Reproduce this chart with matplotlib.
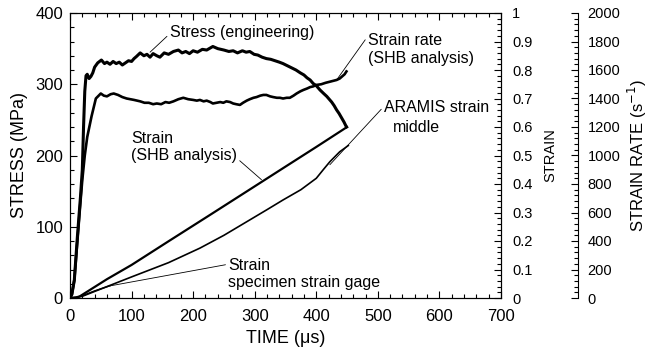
import matplotlib
matplotlib.use("Agg")
import matplotlib.pyplot as plt
from matplotlib.ticker import MultipleLocator

plt.rcParams['font.family'] = ['Liberation Sans', 'DejaVu Sans']

# stress (engineering), MPa
stress_t = [0, 3, 7, 12, 17, 20, 22, 24, 26, 28, 31, 34, 37, 40, 45, 51, 56, 60, 65, 70, 75, 80, 85,
            90, 95, 100, 104, 108, 114, 120, 125, 130, 135, 141, 146, 153, 160, 168, 176, 182, 188,
            194, 200, 207, 215, 222, 232, 240, 250, 258, 265, 272, 280, 286, 292, 299, 305, 312, 319,
            326, 333, 340, 346, 353, 360, 367, 374, 380, 385, 390, 395, 400, 406, 412, 417, 421, 425,
            429, 433, 437, 441, 445, 449]
stress = [0, 5, 25, 86, 142, 180, 240, 290, 312, 314, 308, 311, 316, 324, 330, 334, 329, 331, 328, 332,
          329, 331, 327, 330, 333, 332, 336, 339, 344, 340, 342, 338, 343, 340, 338, 344, 342, 346, 348,
          344, 346, 343, 347, 345, 349, 348, 353, 350, 348, 346, 347, 344, 347, 345, 346, 342, 341, 338,
          336, 335, 333, 331, 329, 326, 323, 320, 316, 313, 309, 306, 301, 298, 292, 287, 283, 279, 275,
          270, 264, 259, 253, 247, 240]

# strain rate (SHB analysis), 1/s
rate_t = [0, 3, 7, 12, 17, 20, 24, 28, 35, 42, 50, 55, 60, 66, 71, 78, 85, 92, 98, 104, 109, 114, 121,
          128, 135, 141, 148, 155, 161, 168, 176, 184, 192, 200, 206, 211, 217, 222, 228, 232, 238,
          244, 249, 254, 260, 265, 270, 276, 281, 287, 292, 298, 303, 309, 314, 319, 325, 330, 336,
          341, 346, 352, 357, 363, 368, 374, 379, 385, 390, 395, 400, 408, 415, 424, 433, 438, 442,
          446, 449]
rate = [0, 25, 125, 400, 675, 830, 1000, 1130, 1275, 1400, 1435, 1420, 1415, 1430, 1435, 1425, 1410,
        1400, 1395, 1390, 1385, 1380, 1370, 1370, 1360, 1365, 1360, 1375, 1370, 1380, 1395, 1405,
        1395, 1390, 1385, 1390, 1380, 1385, 1375, 1365, 1370, 1375, 1370, 1380, 1375, 1365, 1360,
        1355, 1370, 1385, 1395, 1405, 1410, 1420, 1425, 1425, 1415, 1410, 1405, 1405, 1400, 1405,
        1405, 1420, 1435, 1450, 1460, 1470, 1480, 1485, 1495, 1500, 1510, 1520, 1530, 1540, 1555,
        1570, 1590]

# strain (SHB analysis)
shb_t = [0, 10, 16, 60, 100, 160, 227, 290, 350, 400, 450]
shb_strain = [0, 0.002, 0.006, 0.066, 0.116, 0.199, 0.291, 0.378, 0.461, 0.53, 0.6]

# ARAMIS strain middle
aramis_t = [0, 10, 20, 60, 100, 160, 211, 250, 292, 320, 346, 375, 400, 412, 422, 438, 452]
aramis_strain = [0, 0.002, 0.006, 0.04, 0.074, 0.124, 0.175, 0.22, 0.274, 0.31, 0.344, 0.38, 0.42,
                 0.452, 0.478, 0.513, 0.535]

# strain, specimen strain gage
gage_t = [0, 10, 20, 40, 65]
gage_strain = [0, 0.002, 0.008, 0.025, 0.043]

strain_ticks = [0, 0.1, 0.2, 0.3, 0.4, 0.5, 0.6, 0.7, 0.8, 0.9, 1]
strain_labels = ['0', '0.1', '0.2', '0.3', '0.4', '0.5', '0.6', '0.7', '0.8', '0.9', '1']

fig = plt.figure(figsize=(6.51, 3.52), dpi=100)
ax = fig.add_axes([70 / 651, 1 - 298 / 352, 431 / 651, 285 / 352])
ax2 = ax.twinx()
ax3 = ax.twinx()

ax.plot(stress_t, stress, color='black', lw=2.2, solid_joinstyle='round')
ax3.plot(rate_t, rate, color='black', lw=1.9, solid_joinstyle='round')
ax2.plot(shb_t, shb_strain, color='black', lw=1.6)
ax2.plot(aramis_t, aramis_strain, color='black', lw=1.2)
ax2.plot(gage_t, gage_strain, color='black', lw=1.0)

ax.set_xlim(0, 700)
ax.set_ylim(0, 400)
ax2.set_ylim(0, 1)
ax3.set_ylim(0, 2000)

ax.xaxis.set_major_locator(MultipleLocator(100))
ax.xaxis.set_minor_locator(MultipleLocator(20))
ax.yaxis.set_major_locator(MultipleLocator(100))
ax.yaxis.set_minor_locator(MultipleLocator(20))
ax2.set_yticks(strain_ticks)
ax2.set_yticklabels(strain_labels)
ax2.yaxis.set_minor_locator(MultipleLocator(0.02))
ax3.yaxis.set_major_locator(MultipleLocator(200))
ax3.yaxis.set_minor_locator(MultipleLocator(40))

ax.tick_params(which='both', direction='in', top=True, right=False, labelsize=12, width=0.8)
ax.tick_params(which='major', length=5)
ax.tick_params(which='minor', length=3)
ax.tick_params(axis='x', pad=8)
ax.tick_params(axis='y', pad=5)
for a, p in ((ax2, 8), (ax3, 7)):
    a.tick_params(which='both', direction='in', labelsize=10.5, width=0.8, pad=p)
    a.tick_params(which='major', length=5)
    a.tick_params(which='minor', length=3)

ax3.spines['right'].set_position(('axes', (578 - 70) / 431))
for s in ('top', 'bottom', 'left'):
    ax3.spines[s].set_visible(False)
for a in (ax, ax2, ax3):
    for s in a.spines.values():
        s.set_linewidth(0.8)

ax.set_xlabel('TIME (\u03bcs)', fontsize=13, labelpad=4)
ax.set_ylabel('STRESS (MPa)', fontsize=13, labelpad=5)
ax2.set_ylabel('STRAIN', fontsize=10.5, labelpad=8)
ax3.set_ylabel('STRAIN RATE (s$^{-1}$)', fontsize=12, labelpad=4)

line = dict(arrowstyle='-', lw=0.6, color='black', shrinkA=0, shrinkB=0)
fs = 11.5
ax.annotate('Stress (engineering)', xy=(130, 345), xytext=(162, 373), ha='left', va='center',
            fontsize=fs, arrowprops=dict(relpos=(0, 0.4), **line))
ax.annotate('Strain rate\n(SHB analysis)', xy=(433, 306), xytext=(484, 349), ha='left', va='center',
            fontsize=fs, linespacing=1.3, arrowprops=dict(relpos=(0, 0.9), **line))
ax.annotate('Strain\n(SHB analysis)', xy=(311, 166), xytext=(99, 212), ha='left', va='center',
            fontsize=fs, linespacing=1.2, arrowprops=dict(relpos=(1, 0.15), **line))
ax.annotate('ARAMIS strain', xy=(422, 187), xytext=(510, 267), ha='left', va='center',
            fontsize=fs, arrowprops=dict(relpos=(0, 0.6), **line))
ax.text(524, 240, 'middle', ha='left', va='center', fontsize=fs)
ax.annotate('Strain\nspecimen strain gage', xy=(65, 17), xytext=(257, 34), ha='left', va='center',
            fontsize=fs, linespacing=1.15, arrowprops=dict(relpos=(0, 0.8), **line))

fig.savefig('out.png', dpi=100)
